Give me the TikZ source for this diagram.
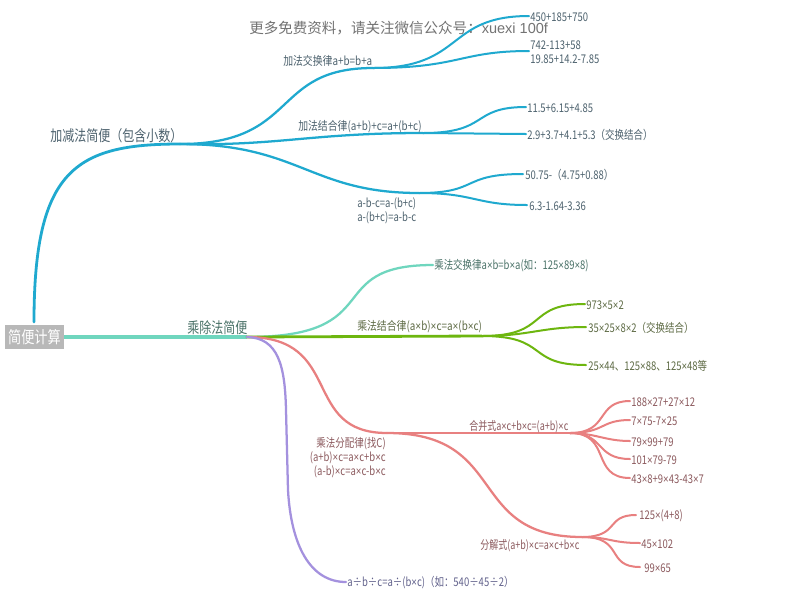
\documentclass[tikz,border=0pt]{standalone}
\usepackage{fontspec}
\setmainfont[FakeStretch=0.79]{Noto Sans CJK SC}
\newfontfamily\titlecjk{Noto Sans CJK SC}
\newfontfamily\titlelat{Liberation Sans}
\newfontfamily\timesf[FakeStretch=0.8]{Liberation Sans}
\newcommand{\xx}{{\timesf ×}}
\definecolor{cblue}{HTML}{1FA9CF}
\definecolor{cteal}{HTML}{6FD6BE}
\definecolor{cgreen}{HTML}{6DB60F}
\definecolor{cred}{HTML}{E88080}
\definecolor{cpurple}{HTML}{A491DE}
\definecolor{tblue}{HTML}{4D626E}
\definecolor{tteal}{HTML}{4A7268}
\definecolor{tgreen}{HTML}{5E6B45}
\definecolor{tred}{HTML}{8C5A5E}
\definecolor{tpurple}{HTML}{62628C}
\tikzset{
  txt/.style={inner sep=0pt,anchor=west,yshift=-0.7pt,font=\fontsize{9pt}{10.6pt}\selectfont},
  txtr/.style={inner sep=0pt,anchor=east,yshift=-0.7pt,align=right,font=\fontsize{9pt}{10.6pt}\selectfont},
  big/.style={inner sep=0pt,anchor=west,yshift=-0.7pt,font=\fontsize{11.4pt}{12pt}\selectfont},
  wider/.style={xscale=1.04,transform shape},
  narrower/.style={xscale=0.95,transform shape},
  main/.style={line width=2.1pt,line cap=round},
  sub/.style={line width=1.7pt,line cap=round},
  leaf/.style={line width=1.5pt,line cap=round},
}
\begin{document}
\begin{tikzpicture}[x=0.75pt,y=-0.75pt]
\useasboundingbox (0,0) rectangle (800,601);
\fill[white] (0,0) rectangle (800,601);
% junction points
\coordinate (h1) at (180,144);
\coordinate (h11) at (373,68);
\coordinate (h12) at (423,133);
\coordinate (h13) at (419,193);
\coordinate (h2) at (247,337);
\coordinate (h22) at (482,336);
\coordinate (h3) at (387,433);
\coordinate (h31) at (570,433);
\coordinate (h32) at (582,537);
\coordinate (rtop) at (34,322);
\coordinate (e11a) at (529,16);
\coordinate (e11b) at (529,51);
\coordinate (e12a) at (526,107);
\coordinate (e12b) at (526,134);
\coordinate (e13a) at (523,174);
\coordinate (e13b) at (527,205);
\coordinate (e21) at (433,265);
\coordinate (e22a) at (585,304);
\coordinate (e22b) at (586,327);
\coordinate (e22c) at (586,365);
\coordinate (e4) at (346,582);
\coordinate (e31a) at (630,401);
\coordinate (e31b) at (630,420);
\coordinate (e31c) at (630,441);
\coordinate (e31d) at (630,459);
\coordinate (e31e) at (630,478);
\coordinate (e32a) at (636,515);
\coordinate (e32b) at (640,543);
\coordinate (e32c) at (640,567);
% root
\node[fill=black!28,text=white,minimum width=44.25pt,minimum height=18pt,inner sep=0pt,font=\fontsize{12.5pt}{13pt}\selectfont] (root) at (34.5,337) {简便计算};
% blue
\draw[cblue,main] (rtop) .. controls (34,170) and (75,144) .. (h1);
\draw[cblue,sub] (h1) .. controls (300,144) and (270,68) .. (h11);
\draw[cblue,sub] (h1) .. controls (280,146) and (310,133) .. (h12);
\draw[cblue,sub] (h1) .. controls (300,144) and (310,193) .. (h13);
\draw[cblue,leaf] (h11) .. controls (465,68) and (445,16) .. (e11a);
\draw[cblue,leaf] (h11) .. controls (460,68) and (460,51) .. (e11b);
\draw[cblue,leaf] (h12) .. controls (490,133) and (470,107) .. (e12a);
\draw[cblue,leaf] (h12) -- (e12b);
\draw[cblue,leaf] (h13) .. controls (480,193) and (460,174) .. (e13a);
\draw[cblue,leaf] (h13) .. controls (475,193) and (475,205) .. (e13b);
% teal
\draw[cteal,line width=2.4pt] (root.east) -- (h2);
\draw[cteal,sub] (h2) .. controls (390,337) and (320,265) .. (e21);
% green
\draw[cgreen,main] (h2) -- (h22);
\draw[cgreen,leaf] (h22) .. controls (550,336) and (525,304) .. (e22a);
\draw[cgreen,leaf] (h22) .. controls (530,336) and (540,327) .. (e22b);
\draw[cgreen,leaf] (h22) .. controls (550,336) and (525,365) .. (e22c);
% red
\draw[cred,sub] (h2) .. controls (345,337) and (300,433) .. (h3);
\draw[cred,sub] (h3) -- (h31);
\draw[cred,sub] (h3) .. controls (510,433) and (465,537) .. (h32);
\draw[cred,leaf] (h31) .. controls (610,433) and (595,401) .. (e31a);
\draw[cred,leaf] (h31) .. controls (605,433) and (600,420) .. (e31b);
\draw[cred,leaf] (h31) .. controls (595,433) and (605,441) .. (e31c);
\draw[cred,leaf] (h31) .. controls (605,433) and (595,459) .. (e31d);
\draw[cred,leaf] (h31) .. controls (612,433) and (590,478) .. (e31e);
\draw[cred,leaf] (h32) .. controls (620,537) and (605,515) .. (e32a);
\draw[cred,leaf] (h32) .. controls (610,537) and (610,543) .. (e32b);
\draw[cred,leaf] (h32) .. controls (625,537) and (605,567) .. (e32c);
% purple
\draw[cpurple,sub] (h2) .. controls (278,338) and (285,365) .. (286,410) -- (288,490) .. controls (291,545) and (310,582) .. (e4);
% title
\node[inner sep=0pt,anchor=west,text=black!55,font=\fontsize{10.9pt}{12pt}\titlecjk] (title) at (249,28) {更多免费资料，请关注微信公众号：{\titlelat xuexi 100f}};
% labels
\node[big,text=tblue] (n1) at (50,135) {加减法简便（包含小数）};
\node[txt,wider,text=tblue] (n11) at (283,60) {加法交换律a+b=b+a};
\node[txt,wider,text=tblue] (n12) at (298,126) {加法结合律(a+b)+c=a+(b+c)};
\node[txt,text=tblue,align=left] (n13) at (357,210) {a-b-c=a-(b+c)\\a-(b+c)=a-b-c};
\node[txt,text=tblue] (l1) at (530,16) {450+185+750};
\node[txt,text=tblue,align=left] (l2) at (530,51.5) {742-113+58\\19.85+14.2-7.85};
\node[txt,text=tblue] (l3) at (527,107) {11.5+6.15+4.85};
\node[txt,text=tblue] (l4) at (527,134) {2.9+3.7+4.1+5.3（交换结合）};
\node[txt,text=tblue] (l5) at (525,174) {50.75-（4.75+0.88）};
\node[txt,text=tblue] (l6) at (529,205) {6.3-1.64-3.36};
\node[big,text=tteal] (n2) at (187,327) {乘除法简便};
\node[txt,text=tteal] (l7) at (434,265) {乘法交换律a\xx b=b\xx a(如：125\xx 89\xx 8)};
\node[txt,wider,text=tgreen] (n22) at (357,326) {乘法结合律(a\xx b)\xx c=a\xx (b\xx c)};
\node[txt,text=tgreen] (l8) at (586,304) {973\xx 5\xx 2};
\node[txt,text=tgreen] (l9) at (588,327) {35\xx 25\xx 8\xx 2（交换结合）};
\node[txt,text=tgreen] (l10) at (588,365) {25\xx 44、125\xx 88、125\xx 48等};
\node[txtr,text=tred] (n3) at (386,456.5) {乘法分配律(找C)\\(a+b)\xx c=a\xx c+b\xx c\\(a-b)\xx c=a\xx c-b\xx c};
\node[txt,narrower,text=tred] (n31) at (469,426) {合并式a\xx c+b\xx c=(a+b)\xx c};
\node[txt,narrower,text=tred] (n32) at (480,545) {分解式(a+b)\xx c=a\xx c+b\xx c};
\node[txt,text=tred] (l11) at (631,401) {188\xx 27+27\xx 12};
\node[txt,text=tred] (l12) at (631,420) {7\xx 75-7\xx 25};
\node[txt,text=tred] (l13) at (631,441) {79\xx 99+79};
\node[txt,text=tred] (l14) at (631,459) {101\xx 79-79};
\node[txt,text=tred] (l15) at (631,478) {43\xx 8+9\xx 43-43\xx 7};
\node[txt,text=tred] (l16) at (639,515) {125\xx (4+8)};
\node[txt,text=tred] (l17) at (641,543) {45\xx 102};
\node[txt,text=tred] (l18) at (644,567) {99\xx 65};
\node[txt,text=tpurple] (l19) at (347,582) {a÷b÷c=a÷(b\xx c)（如：540÷45÷2）};
\end{tikzpicture}
\end{document}
